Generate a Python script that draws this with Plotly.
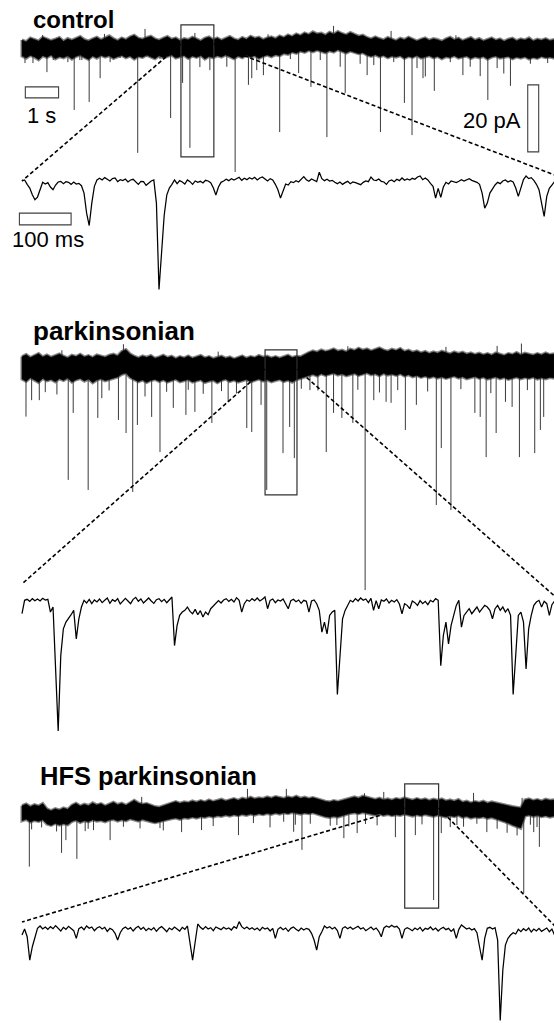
import numpy as np
import plotly.graph_objects as go

# ---------------------------------------------------------------------------
# Recorded currents (pA).  Long sweeps are summarised by the dense noise
# envelope (sampled every 0.125 s) plus the individual events; the expanded
# 1-s segments are sampled every 5 ms.
# ---------------------------------------------------------------------------
FULL_DT = 0.125     # s, envelope sampling of the long sweeps
ZOOM_DT = 0.005     # s, sampling of the expanded segments

# ---- control ---------------------------------------------------------------
ctl_env_hi = [2.1, 1.6, 2.7, 2.2, 1.8, 2.9, 2.4, 1.9, 2.3, 2.8,
              1.7, 2.5, 2.0, 2.6, 3.1, 2.2, 1.8, 2.4, 2.9, 2.1,
              2.6, 3.3, 2.5, 1.9, 2.7, 2.2, 3.0, 3.5, 2.6, 2.3,
              2.8, 3.2, 2.4, 2.0, 2.6, 3.1, 2.3, 2.7, 1.9, 2.5,
              2.2, 2.9, 2.4, 1.8, 2.6, 3.0, 2.2, 2.7, 2.0, 2.5,
              3.1, 2.4, 2.0, 2.8, 2.3, 3.2, 2.6, 2.9, 2.2, 2.7,
              3.0, 2.5, 3.3, 2.8, 3.6, 3.1, 3.9, 3.4, 4.2, 3.7,
              4.5, 3.9, 4.1, 3.5, 4.4, 3.8, 4.6, 4.0, 3.6, 4.3,
              3.7, 3.2, 3.5, 2.8, 2.4, 3.0, 2.5, 2.1, 2.8, 2.3,
              1.9, 2.6, 2.2, 2.9, 2.4, 1.8, 2.3, 2.7, 2.0, 2.5,
              2.2, 1.7, 2.4, 2.9, 2.1, 2.6, 1.9, 2.3, 2.8, 2.0,
              2.5, 1.8, 2.2, 2.7, 2.0, 2.4, 1.7, 2.3, 2.6, 1.9,
              2.4, 2.1, 2.7, 1.8, 2.3, 2.0, 2.5, 1.9, 2.2]
ctl_env_lo = [-2.7, -3.3, -2.5, -3.0, -3.8, -2.6, -3.1, -2.4, -3.5, -2.9,
              -3.2, -2.6, -3.6, -2.8, -2.4, -3.1, -3.7, -2.7, -3.3, -2.5,
              -3.0, -2.6, -3.4, -2.9, -2.5, -3.2, -2.7, -3.6, -2.8, -3.1,
              -2.4, -3.0, -3.5, -2.6, -3.2, -2.8, -2.4, -3.3, -2.9, -2.5,
              -3.4, -2.7, -3.1, -2.5, -3.6, -2.8, -3.2, -2.6, -3.0, -2.4,
              -2.9, -3.5, -2.7, -3.2, -2.5, -3.0, -2.6, -3.4, -2.8, -2.4,
              -2.9, -2.3, -2.6, -1.9, -2.2, -1.5, -1.9, -1.2, -1.6, -1.0,
              -1.4, -0.9, -1.3, -1.7, -1.1, -1.5, -0.8, -1.4, -1.8, -1.2,
              -1.6, -2.0, -1.7, -2.4, -2.8, -2.3, -2.9, -2.5, -3.2, -2.7,
              -3.0, -2.6, -3.4, -2.8, -3.1, -2.5, -3.3, -2.9, -2.6, -3.2,
              -2.8, -3.5, -2.9, -3.1, -2.6, -3.3, -3.0, -2.7, -3.4, -2.9,
              -3.2, -2.8, -3.6, -3.0, -2.7, -3.3, -3.1, -2.8, -3.5, -3.0,
              -3.3, -2.9, -3.6, -3.1, -3.4, -2.8, -3.2, -3.0, -3.3]
ctl_evt_t = [0.09, 0.33, 0.54, 0.75, 0.94, 1.38, 1.57, 1.74, 1.80, 2.02,
             2.35, 2.65, 2.95, 3.48, 3.75, 4.15, 4.47, 4.83, 5.05, 5.35,
             5.65, 6.16, 6.41, 6.81, 6.91, 7.06, 7.26, 7.75, 8.07, 8.32,
             8.69, 8.97, 9.17, 9.57, 9.72, 10.17, 10.38, 10.58, 10.78, 11.18,
             11.50, 11.73, 11.88, 12.06, 12.13, 12.40, 12.88, 13.26, 13.48, 13.78,
             14.01, 14.29, 14.49, 14.69, 15.29, 15.81]
ctl_evt_pk = [-4.8, -4.8, -3.3, -7.5, -3.9, -4.5, -18.8, -3.9, -3.9, -16.4,
              -9.3, -4.5, -3.3, -31.6, -2.9, -3.6, -21.2, -10.7, -30.1, -6.0,
              -6.9, -5.9, -37.3, -11.3, -9.3, -6.9, -8.4, -25.4, -3.6, -7.8,
              -11.9, -3.9, -26.9, -5.9, -13.7, -5.0, -8.4, -5.4, -25.4, -4.5,
              -16.7, -26.3, -6.3, -9.3, -8.8, -13.1, -4.5, -8.4, -5.9, -8.7,
              -15.8, -6.3, -7.9, -11.6, -5.0, -4.8]
ctl_up_t = [0.62, 2.48, 3.70, 5.20, 7.40, 9.37, 11.10, 13.05]
ctl_up_pk = [3.6, 3.9, 5.4, 4.2, 3.8, 6.3, 4.8, 3.5]
ctl_zoom = [0.6, 0.9, -0.4, -1.5, -3.5, -5.0, -4.2, -1.8, 0.2, -0.3,
            0.1, -1.2, -2.0, -0.6, 0.3, 0.5, -0.2, 0.4, 0.2, -0.4,
            0.3, -0.3, -0.1, -0.8, -3.0, -9.0, -12.7, -6.0, -1.0, 0.9,
            1.4, 0.9, 1.6, 1.1, 0.6, 1.3, 1.5, 0.4, 1.0, 0.7,
            1.2, 0.3, 0.9, 1.1, 0.2, -0.4, 0.5, 0.4, -0.7, -0.1,
            0.6, 0.9, -6.0, -31.8, -22.0, -9.7, -3.6, -1.5, -0.4, 0.9,
            -0.2, 0.7, 0.3, -0.3, 0.9, 0.4, -0.4, 0.6, 0.2, 0.5,
            0.0, 0.8, 0.6, 0.1, -1.4, -3.6, -1.2, 0.2, 0.6, 1.1,
            0.7, 1.3, 0.9, 1.2, 1.7, 0.8, 1.4, 1.0, 1.6, 1.2,
            1.7, 0.9, 1.5, 1.8, 1.1, 0.6, 1.3, 0.9, -0.4, -2.0,
            -4.5, -2.1, -0.3, -0.6, 0.4, 0.1, 0.7, 0.3, 1.1, 1.9,
            1.0, 0.5, 1.2, 0.9, 0.4, 3.2, 1.3, 0.7, 1.1, 0.6,
            0.8, 0.2, -0.2, 0.3, -0.4, 0.1, 0.5, -0.2, 0.3, 0.1,
            -0.2, -0.5, 0.2, 0.6, 0.4, 1.8, 0.9, 0.7, 1.2, 0.5,
            0.3, -0.4, 0.6, 0.9, 0.4, 1.1, 0.7, 1.5, 0.8, 1.2,
            0.9, 1.4, 1.1, 1.8, 2.1, 1.0, 1.5, 0.9, -0.1, -1.0,
            -4.5, -1.6, -4.3, -1.2, 0.2, -0.3, 0.6, 0.4, 0.1, 0.5,
            1.0, 0.6, 0.9, 1.3, 0.8, 0.5, 0.2, -0.4, -3.0, -7.5,
            -6.0, -3.0, -1.6, -0.6, 0.2, -0.2, 0.6, 0.9, 0.3, 0.7,
            0.3, -1.5, -4.0, -1.1, 1.0, 2.1, 1.3, 1.6, 0.8, -0.4,
            -2.0, -6.0, -10.0, -4.0, -1.6, -0.6, 0.4]

# ---- parkinsonian ----------------------------------------------------------
park_env_hi = [3.1, 3.7, 2.8, 3.4, 4.0, 3.0, 3.6, 2.9, 3.3, 3.9,
               3.2, 2.7, 3.5, 3.1, 3.8, 3.0, 3.4, 2.8, 3.6, 3.2,
               2.9, 3.5, 3.8, 3.3, 4.6, 5.2, 3.9, 3.2, 2.7, 3.3,
               2.9, 3.4, 2.6, 3.0, 3.5, 2.8, 3.2, 2.5, 3.1, 2.7,
               3.3, 2.6, 3.0, 3.4, 2.7, 3.1, 2.5, 2.9, 3.2, 2.6,
               3.0, 2.4, 2.9, 3.3, 2.6, 3.1, 2.8, 3.4, 2.9, 3.2,
               2.7, 3.1, 2.6, 3.0, 3.5, 2.8, 3.2, 3.0, 3.7, 4.3,
               4.8, 4.4, 5.1, 4.6, 4.9, 5.4, 4.7, 5.0, 4.5, 5.3,
               4.9, 5.6, 5.0, 5.4, 4.8, 5.2, 5.7, 5.1, 4.7, 5.3,
               4.9, 5.5, 4.6, 5.0, 4.4, 4.8, 4.2, 4.6, 4.0, 4.5,
               4.1, 4.7, 4.3, 3.9, 4.5, 4.0, 4.4, 3.8, 4.2, 3.7,
               4.1, 3.6, 4.0, 3.5, 4.2, 3.8, 3.4, 4.0, 3.7, 4.3,
               3.6, 4.1, 3.8, 3.5, 4.0, 3.6, 4.2, 3.7, 3.9]
park_env_lo = [-3.6, -4.3, -3.2, -3.9, -4.6, -3.4, -4.1, -3.7, -4.4, -3.5,
               -4.0, -3.3, -4.5, -3.8, -3.4, -4.2, -3.6, -4.7, -3.9, -3.5,
               -4.1, -3.7, -3.3, -3.0, -2.2, -1.8, -3.1, -3.8, -4.4, -3.9,
               -4.6, -4.0, -3.7, -4.3, -3.8, -4.5, -4.1, -3.6, -4.4, -4.0,
               -3.7, -4.5, -4.1, -3.8, -4.6, -4.2, -3.9, -4.7, -4.0, -3.6,
               -4.3, -3.9, -4.5, -4.1, -3.7, -4.4, -4.0, -3.6, -4.2, -3.8,
               -4.4, -4.0, -3.7, -4.3, -3.9, -4.5, -3.8, -3.5, -3.0, -2.6,
               -2.2, -2.7, -2.0, -2.5, -2.1, -1.8, -2.4, -2.0, -2.6, -2.2,
               -1.9, -2.5, -2.1, -1.7, -2.3, -2.0, -2.6, -1.9, -2.4, -2.1,
               -2.5, -2.0, -2.7, -2.3, -2.9, -2.5, -3.1, -2.7, -3.2, -2.8,
               -3.3, -2.9, -3.4, -3.0, -2.7, -3.3, -2.9, -3.5, -3.1, -2.8,
               -3.4, -3.0, -3.6, -3.2, -2.9, -3.5, -3.1, -3.7, -3.3, -3.0,
               -3.5, -3.1, -3.4, -3.0, -3.6, -3.2, -3.5, -3.1, -3.3]
park_evt_t = [0.12, 0.29, 0.52, 1.39, 1.54, 1.99, 2.28, 2.40, 2.90, 3.13,
              3.33, 3.47, 3.90, 4.15, 4.55, 4.93, 5.20, 5.71, 6.20, 6.76,
              6.91, 7.19, 7.36, 7.85, 8.05, 8.19, 8.66, 9.15, 9.37, 9.62,
              9.95, 10.32, 10.58, 10.95, 11.10, 11.53, 11.86, 12.46, 12.61, 12.90,
              13.62, 13.78, 13.96, 14.26, 14.54, 14.74, 14.96, 15.42, 15.59, 15.69,
              0.70, 1.05, 2.62, 3.70, 4.35, 5.00, 5.45, 6.00, 6.45, 8.40,
              8.90, 10.10, 10.75, 11.30, 12.20, 13.20, 14.10, 15.20]
park_evt_pk = [-14.8, -9.9, -9.9, -33.7, -13.7, -36.7, -15.2, -9.3, -15.8, -19.7,
               -37.3, -17.3, -14.9, -25.4, -12.2, -14.3, -13.4, -16.7, -10.4, -18.2,
               -19.4, -11.3, -36.7, -25.7, -17.9, -27.2, -6.9, -25.4, -13.7, -15.2,
               -16.7, -66.6, -9.9, -10.4, -10.7, -18.8, -11.3, -41.2, -24.2, -42.7,
               -13.7, -14.9, -26.9, -19.7, -10.4, -11.9, -26.9, -25.7, -18.8, -14.9,
               -7.5, -8.2, -7.0, -8.8, -7.4, -6.8, -8.0, -7.2, -7.9, -6.5,
               -7.0, -6.8, -7.6, -6.9, -7.3, -6.6, -7.8, -6.9]
park_up_t = [1.20, 3.05, 5.90, 9.80, 12.75, 14.29, 15.02]
park_up_pk = [5.0, 6.8, 4.6, 6.2, 6.0, 6.3, 7.0]
park_zoom = [-3.5, 0.5, 0.8, 0.2, 1.0, 0.4, 0.9, 0.3, 1.1, 0.6,
             0.8, -3.0, -1.5, -20.0, -38.5, -16.0, -8.0, -6.0, -5.0, -3.8,
             -2.5, -11.0, -5.0, -1.5, 0.5, -0.3, 0.8, -0.5, 0.6, 0.0,
             0.9, -0.2, 0.5, 1.2, -0.4, 0.7, 0.2, 1.0, -0.6, 0.4,
             1.1, 0.3, -0.5, 0.8, 1.4, 0.2, 0.9, -0.3, 0.6, 1.2,
             0.3, -0.4, 0.7, 1.0, 0.1, 0.8, -0.2, 0.5, 1.5, -13.0,
             -7.0, -4.0, -3.0, -2.5, -1.5, -2.8, -3.5, -2.2, -3.8, -2.6,
             -4.5, -3.0, -3.8, -2.0, -1.2, -0.5, 0.4, -0.3, 0.6, 1.0,
             0.2, 0.8, 0.0, 1.3, 0.5, -3.0, -0.5, 0.6, 0.2, 1.0,
             0.4, 1.2, 0.3, 0.8, 1.5, -2.0, 0.5, 0.9, -0.2, 0.6,
             0.3, 0.9, -0.5, -2.0, 0.4, 0.8, 0.1, 0.6, -0.4, 0.5,
             0.2, -3.0, 0.3, 0.6, -0.5, -2.5, -9.0, -6.0, -9.5, -4.0,
             -3.0, -2.5, -27.6, -15.0, -5.0, -2.5, -1.0, 0.5, 0.0, 1.0,
             0.3, 1.2, 0.5, 0.9, -0.2, 1.1, -2.5, 0.4, -2.0, 0.6,
             0.2, 0.9, -0.3, 0.5, 0.0, 0.7, -0.6, -3.5, -0.5, -1.0,
             -2.0, 0.3, -0.2, -1.0, 0.4, -0.5, 0.2, -0.8, 0.5, 0.0,
             1.0, 0.5, -19.0, -10.0, -6.0, -12.5, -7.0, -4.0, -1.0, 0.5,
             -7.5, -4.0, -3.0, -2.0, -3.5, -2.5, -1.5, -3.0, -2.0, -1.0,
             -1.5, -2.5, -5.0, -2.0, -1.0, -2.5, -1.5, -3.0, -2.0, -4.0,
             -27.6, -15.0, -4.0, -3.0, -6.0, -20.0, -8.0, -4.0, -1.0, 0.0,
             0.5, -1.5, 0.2, -0.5, -4.0, -0.8, 0.3]

# ---- HFS parkinsonian ------------------------------------------------------
hfs_env_hi = [1.9, 2.4, 1.6, 2.2, 1.8, 2.5, 0.9, 0.4, 1.0, 0.6,
              1.2, 0.8, 2.0, 2.6, 1.8, 2.3, 1.9, 2.7, 2.1, 2.5,
              1.8, 2.4, 2.9, 2.2, 2.6, 2.0, 2.8, 3.5, 2.7, 2.3,
              2.5, 2.0, 1.6, 1.4, 1.8, 2.4, 2.7, 3.1, 2.6, 3.0,
              2.8, 3.3, 2.9, 3.4, 3.0, 3.6, 3.1, 3.5, 3.8, 3.3,
              3.7, 4.0, 3.5, 4.1, 3.8, 4.4, 3.9, 4.2, 4.0, 4.5,
              4.1, 4.6, 4.3, 4.0, 4.5, 4.2, 4.7, 4.1, 4.4, 4.0,
              4.3, 3.9, 3.6, 3.2, 3.0, 3.4, 3.1, 3.5, 3.9, 4.2,
              4.5, 4.1, 4.7, 4.4, 4.0, 3.7, 4.1, 3.6, 3.9, 3.5,
              4.0, 3.7, 4.2, 3.8, 3.5, 4.0, 3.6, 3.9, 3.4, 3.8,
              3.5, 3.9, 3.3, 3.6, 3.2, 3.7, 2.9, 3.2, 2.7, 3.1,
              2.8, 3.2, 2.6, 3.0, 2.7, 2.3, 2.1, 1.9, 1.6, 1.4,
              1.2, 3.6, 3.9, 3.4, 3.7, 3.3, 3.8, 3.5, 3.6]
hfs_env_lo = [-2.6, -2.2, -3.0, -2.5, -2.8, -2.3, -3.6, -4.0, -3.4, -3.9,
              -3.5, -3.8, -2.8, -2.4, -3.1, -2.6, -2.9, -2.3, -2.7, -2.5,
              -2.9, -2.4, -2.2, -2.7, -2.3, -2.6, -2.0, -2.4, -2.7, -2.2,
              -2.5, -2.9, -3.2, -3.0, -2.7, -2.3, -2.0, -1.8, -2.2, -1.7,
              -1.9, -1.5, -1.8, -1.4, -1.6, -1.2, -1.5, -1.1, -1.3, -0.9,
              -1.2, -0.8, -1.1, -0.7, -1.0, -0.6, -0.9, -0.5, -0.8, -0.4,
              -0.7, -0.3, -0.6, -0.2, -0.5, -0.1, -0.4, -0.6, -0.3, -0.5,
              -0.2, -0.6, -1.0, -1.4, -1.6, -1.3, -1.5, -1.1, -0.7, -0.4,
              -0.2, -0.5, -0.1, -0.4, -0.7, -0.9, -0.6, -1.0, -0.7, -1.1,
              -0.8, -1.0, -0.6, -0.9, -1.2, -0.8, -1.1, -0.7, -1.0, -1.3,
              -0.9, -1.2, -1.5, -1.1, -1.4, -1.0, -1.6, -1.3, -1.8, -1.5,
              -1.7, -1.4, -1.9, -1.6, -2.0, -2.4, -2.8, -3.3, -3.9, -4.4,
              -4.8, -1.2, -0.9, -1.3, -1.0, -1.4, -1.1, -1.5, -1.2]
hfs_evt_t = [0.22, 1.19, 1.32, 1.65, 1.90, 2.15, 2.65, 4.15, 4.80, 5.40,
             6.51, 6.96, 7.87, 8.17, 8.42, 9.68, 10.08, 11.23, 11.83, 12.38,
             12.61, 12.88, 13.98, 15.09, 15.39, 15.56,
             0.29, 0.59, 1.04, 1.99, 3.05, 3.55, 4.25, 5.75, 7.46, 8.22,
             8.67, 9.27, 9.47, 9.83, 10.33, 10.68, 12.03, 13.08, 13.28, 13.68,
             14.29, 14.59, 14.89, 15.29, 15.49]
hfs_evt_pk = [-16.3, -12.2, -8.4, -14.0, -5.7, -5.4, -8.4, -4.8, -6.0, -5.4,
              -6.9, -3.3, -2.9, -5.9, -11.3, -7.8, -6.3, -7.5, -6.9, -26.3,
              -6.3, -4.5, -6.0, -24.2, -6.0, -10.4,
              -5.2, -4.6, -5.8, -5.0, -4.4, -4.9, -5.5, -4.2, -4.6, -3.8,
              -3.5, -4.1, -3.9, -4.3, -3.6, -4.0, -3.7, -3.9, -4.4, -3.5,
              -5.0, -6.2, -7.0, -3.8, -4.5]
hfs_up_t = [3.60, 6.78, 7.95, 10.30, 10.88, 13.58, 15.04]
hfs_up_pk = [4.5, 6.9, 6.9, 5.6, 6.0, 5.7, 4.2]
hfs_zoom = [-1.5, 0.3, -2.0, -9.0, -5.0, -2.0, 0.5, 1.2, 0.3, 0.9,
            0.2, 1.0, 0.4, 1.3, 0.6, -0.3, 0.8, 0.2, 1.1, 0.5,
            -0.2, -2.5, 0.4, 0.9, 0.1, 1.2, 0.5, 0.9, -0.2, 0.6,
            1.0, 0.3, 0.8, -0.4, 0.5, 0.1, -1.0, -3.0, -0.8, 0.4,
            0.9, 0.2, 0.7, -0.3, 0.6, 1.1, 0.2, 0.8, -0.2, 0.5,
            0.0, 0.7, -0.4, 0.5, 1.0, 0.3, -0.5, 0.6, 0.1, 0.9,
            0.4, -0.3, 0.8, 0.2, 1.2, -4.0, -9.0, -3.5, 1.8, 0.8,
            0.2, 1.0, 0.3, 0.7, -0.2, 0.9, 0.5, 0.1, 0.8, 0.3,
            0.6, 0.0, 1.0, 0.5, 2.5, 1.0, 0.4, 0.9, 0.2, 0.7,
            0.1, 0.6, -0.2, 0.8, 0.3, 0.6, -0.3, 0.5, -2.5, 0.2,
            0.8, 0.1, 0.6, -0.4, 0.5, 0.9, 0.2, -0.3, 0.6, 0.0,
            0.5, 0.2, -1.0, -3.0, -6.0, -2.0, -0.5, 1.2, 0.6, 1.0,
            0.3, 0.8, -0.2, -2.5, 0.5, 1.0, 0.4, 0.9, 0.2, 0.6,
            1.1, 0.3, 0.7, -0.2, 0.5, 0.9, 0.1, 0.6, -0.4, -2.0,
            0.6, 1.2, 0.8, 1.4, 0.9, 1.1, 0.3, -2.5, 0.2, 0.7,
            0.3, -0.2, 0.6, 0.1, 0.8, -0.3, 0.5, 0.2, 0.9, 0.0,
            0.6, -0.3, 0.4, 0.8, 0.1, 0.5, -0.4, 0.3, -2.5, 0.2,
            1.5, 0.8, 0.3, 0.6, 0.0, 0.4, -0.8, -5.0, -9.0, -2.5,
            0.5, 0.8, 0.3, 0.7, -3.0, -27.0, -12.0, -4.5, -2.5, -1.5,
            -0.8, -1.2, 0.2, -0.5, 0.4, -0.2, 0.6, -0.6, 0.3, -0.3,
            0.5, -0.4, 0.2, 0.6, -0.5, 0.3, -1.5]

# expanded windows on the long sweeps: start/end time (s), top and bottom (pA)
win_t0 = [4.78, 7.31, 11.51]
win_t1 = [5.77, 8.27, 12.53]
win_top = [6.6, 5.1, 8.4]
win_bot = [-32.8, -38.2, -28.7]
# where the dashed guides meet the sweep (full) and the expanded trace (zoom)
guide_full_v = [0.9, -0.6, 1.2]
guide_zoom_left_v = [0.6, 5.4, 2.4]
guide_zoom_right_v = [2.4, 1.8, 1.3]

titles = ["control", "parkinsonian", "HFS parkinsonian"]

# ---------------------------------------------------------------------------
# page geometry
# ---------------------------------------------------------------------------
W, H = 554, 1023
PX_PER_PA = 67.0 / 20.0        # vertical calibration (20 pA bar)
PX_PER_S_FULL = 33.25          # long sweeps (1 s bar)
PX_PER_S_ZOOM = 517.0          # expanded traces (100 ms bar)
X0 = 22                        # px where every trace starts

# (top px, bottom px, zero-current px, kind) for the six panels
panels = [
    (18, 190, 47, "full"),
    (160, 300, 183, "zoom"),
    (340, 602, 367, "full"),
    (570, 742, 602, "zoom"),
    (780, 918, 812, "full"),
    (905, 1023, 930, "zoom"),
]

axes = []
layout_axes = {}
for k, (ytop, ybot, yzero, kind) in enumerate(panels, start=1):
    pps = PX_PER_S_FULL if kind == "full" else PX_PER_S_ZOOM
    xr = [-X0 / pps, (W - X0) / pps]
    yr = [-(ybot - yzero) / PX_PER_PA, (yzero - ytop) / PX_PER_PA]
    yd = [1 - ybot / H, 1 - ytop / H]
    axes.append((xr, yr, yd))
    sfx = "" if k == 1 else str(k)
    layout_axes["xaxis" + sfx] = dict(domain=[0, 1], range=xr, visible=False,
                                      fixedrange=True, anchor="y" + sfx)
    layout_axes["yaxis" + sfx] = dict(domain=yd, range=yr, visible=False,
                                      fixedrange=True, anchor="x" + sfx)


def to_paper(k, t, v):
    xr, yr, yd = axes[k]
    px = (t - xr[0]) / (xr[1] - xr[0])
    py = yd[0] + (v - yr[0]) / (yr[1] - yr[0]) * (yd[1] - yd[0])
    return px, py


fig = go.Figure()

conditions = [
    (ctl_env_hi, ctl_env_lo, ctl_evt_t, ctl_evt_pk, ctl_up_t, ctl_up_pk, ctl_zoom),
    (park_env_hi, park_env_lo, park_evt_t, park_evt_pk, park_up_t, park_up_pk, park_zoom),
    (hfs_env_hi, hfs_env_lo, hfs_evt_t, hfs_evt_pk, hfs_up_t, hfs_up_pk, hfs_zoom),
]

shapes = []
for c, (hi, lo, et, ep, ut, up, zoom) in enumerate(conditions):
    kf, kz = 2 * c, 2 * c + 1
    xf = "x" if kf == 0 else "x%d" % (kf + 1)
    yf = "y" if kf == 0 else "y%d" % (kf + 1)
    xz, yz = "x%d" % (kz + 1), "y%d" % (kz + 1)

    tg = np.arange(len(hi)) * FULL_DT
    hi_a, lo_a = np.asarray(hi), np.asarray(lo)
    mid = (hi_a + lo_a) / 2
    band_x = np.concatenate([tg, tg[::-1], tg[:1]])
    band_y = np.concatenate([hi_a, lo_a[::-1], hi_a[:1]])
    # soft grey halo of the noise band
    fig.add_trace(go.Scatter(
        x=band_x, y=band_y, mode="lines", line=dict(color="#8a8a8a", width=3.2),
        xaxis=xf, yaxis=yf, hoverinfo="skip", showlegend=False))
    # inward synaptic events and brief outward noise peaks
    sx, sy = [], []
    for t, b, p in zip(et, np.interp(et, tg, mid), ep):
        sx += [t, t, None]
        sy += [b, p, None]
    for t, b, p in zip(ut, np.interp(ut, tg, mid), up):
        sx += [t, t, None]
        sy += [b, p, None]
    fig.add_trace(go.Scatter(
        x=sx, y=sy, mode="lines", line=dict(color="#3a3a3a", width=1),
        xaxis=xf, yaxis=yf, hoverinfo="skip", showlegend=False))
    # dense noise band of the long sweep
    fig.add_trace(go.Scatter(
        x=band_x, y=band_y, fill="toself", fillcolor="#000000", mode="lines",
        line=dict(color="#111111", width=0.6), xaxis=xf, yaxis=yf,
        hoverinfo="skip", showlegend=False))
    # expanded 1-s segment
    tz = np.arange(len(zoom)) * ZOOM_DT
    fig.add_trace(go.Scatter(
        x=tz, y=zoom, mode="lines", line=dict(color="#000000", width=1.25),
        xaxis=xz, yaxis=yz, hoverinfo="skip", showlegend=False))

    # window box on the long sweep
    shapes.append(dict(type="rect", xref=xf, yref=yf, x0=win_t0[c], x1=win_t1[c],
                       y0=win_bot[c], y1=win_top[c],
                       line=dict(color="#303030", width=1.2), fillcolor="rgba(0,0,0,0)"))
    # dashed guides from the window to the expanded trace
    zoom_end = (len(zoom) - 1) * ZOOM_DT
    for tf, tzp, vz in ((win_t0[c], 0.0, guide_zoom_left_v[c]),
                        (win_t1[c], zoom_end, guide_zoom_right_v[c])):
        p0 = to_paper(kf, tf, guide_full_v[c])
        p1 = to_paper(kz, tzp, vz)
        shapes.append(dict(type="line", xref="paper", yref="paper",
                           x0=p0[0], y0=p0[1], x1=p1[0], y1=p1[1],
                           line=dict(color="#000000", width=1.6, dash="4px,2.5px")))

# scale bars (control panels)
shapes.append(dict(type="rect", xref="x", yref="y", x0=0.10, x1=1.10,
                   y0=-15.2, y1=-11.9, line=dict(color="#404040", width=1.1),
                   fillcolor="rgba(0,0,0,0)"))
shapes.append(dict(type="rect", xref="x", yref="y", x0=15.21, x1=15.54,
                   y0=-31.3, y1=-11.3, line=dict(color="#404040", width=1.1),
                   fillcolor="rgba(0,0,0,0)"))
shapes.append(dict(type="rect", xref="x2", yref="y2", x0=-0.005, x1=0.095,
                   y0=-12.5, y1=-9.0, line=dict(color="#404040", width=1.1),
                   fillcolor="rgba(0,0,0,0)"))

FONT = "Liberation Sans, Arial, Helvetica, sans-serif"
annotations = [
    dict(text="1 s", xref="x", yref="y", x=0.60, y=-20.5, showarrow=False,
         xanchor="center", yanchor="middle", font=dict(family=FONT, size=22, color="#000")),
    dict(text="20 pA", xref="x", yref="y", x=15.07, y=-21.8, showarrow=False,
         xanchor="right", yanchor="middle", font=dict(family=FONT, size=22, color="#000")),
    dict(text="100 ms", xref="x2", yref="y2", x=0.05, y=-17.0, showarrow=False,
         xanchor="center", yanchor="middle", font=dict(family=FONT, size=22, color="#000")),
]
title_pos = [(31, 20, 24), (31, 331, 26), (38, 776, 25.5)]
for txt, (tx, ty, fs) in zip(titles, title_pos):
    annotations.append(dict(text="<b>%s</b>" % txt, xref="paper", yref="paper",
                            x=tx / W, y=1 - ty / H, showarrow=False,
                            xanchor="left", yanchor="middle",
                            font=dict(family=FONT, size=fs, color="#000")))

fig.update_layout(
    width=W, height=H, autosize=False,
    margin=dict(l=0, r=0, t=0, b=0, pad=0),
    paper_bgcolor="white", plot_bgcolor="rgba(0,0,0,0)",
    showlegend=False, shapes=shapes, annotations=annotations,
    **layout_axes,
)

fig.write_html("out.html", config={"displayModeBar": False, "staticPlot": True})
